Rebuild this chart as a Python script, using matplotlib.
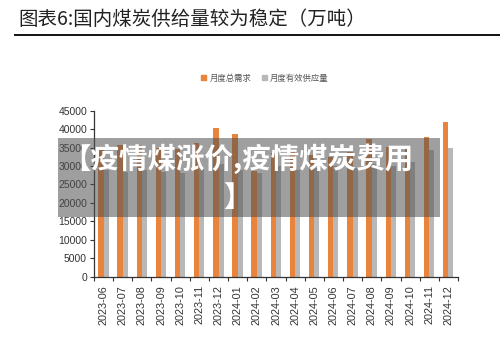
import matplotlib
matplotlib.use("Agg")
import matplotlib.pyplot as plt
from matplotlib.patches import Patch, Rectangle
from matplotlib.lines import Line2D
import numpy as np

plt.rcParams['font.family'] = ['Noto Sans CJK SC', 'DejaVu Sans']

months = ["2023-06", "2023-07", "2023-08", "2023-09", "2023-10", "2023-11",
          "2023-12", "2024-01", "2024-02", "2024-03", "2024-04", "2024-05",
          "2024-06", "2024-07", "2024-08", "2024-09", "2024-10", "2024-11",
          "2024-12"]
demand = [34500, 35700, 35700, 34800, 34500, 36200, 40200, 38600, 28600, 33500,
          34000, 33000, 32500, 33800, 37200, 35200, 35000, 38000, 42000]
supply = [29000, 28500, 29000, 28500, 28000, 29500, 30500, 29000, 28000, 30000,
          29000, 29500, 30000, 29500, 30500, 30000, 31000, 34300, 34800]
yticks = list(range(0, 45001, 5000))

title = "图表6:国内煤炭供给量较为稳定（万吨）"
legend_labels = ["月度总需求", "月度有效供应量"]
overlay_text = "【疫情煤涨价,疫情煤炭费用\n】"

ORANGE = "#E8843C"
GRAY = "#B8B8B8"

W, H = 500, 355
fig = plt.figure(figsize=(W / 100, H / 100), dpi=100)

# axes placed in pixel terms
left, right, top, bottom = 94, 458, 110.7, 276.7
ax = fig.add_axes([left / W, 1 - bottom / H, (right - left) / W, (bottom - top) / H])

x = np.arange(len(months))
ax.bar(x - 0.14, demand, width=0.28, color=ORANGE, zorder=2)
ax.bar(x + 0.13, supply, width=0.26, color=GRAY, zorder=2)

ax.set_xlim(-0.5, len(months) - 0.5)
ax.set_ylim(0, 45000)
ax.set_yticks(yticks)
ax.set_yticklabels([str(v) for v in yticks], fontsize=7.5, color="#333333",
                   family="Liberation Sans")
ax.set_xticks(x)
ax.set_xticklabels(months, rotation=90, fontsize=7.8, color="#333333",
                   family="Liberation Sans")
ax.tick_params(axis="x", which="major", length=0, pad=6)
ax.set_xticks(np.arange(-0.5, len(months)), minor=True)
ax.tick_params(axis="x", which="minor", length=3, width=0.8, color="#333333")
ax.tick_params(axis="y", length=3, width=0.8, color="#333333", pad=2)
for s in ("top", "right"):
    ax.spines[s].set_visible(False)
for s in ("left", "bottom"):
    ax.spines[s].set_color("#333333")
    ax.spines[s].set_linewidth(0.9)

# title and rule
fig.text(18 / W, 1 - 19 / H, title, fontsize=14, color="#222222",
         va="center", ha="left")
fig.add_artist(Line2D([15 / W, 1.0], [1 - 34.5 / H, 1 - 34.5 / H],
                      color="#111111", lw=1.4))

# legend
handles = [Patch(color=ORANGE), Patch(color=GRAY)]
fig.legend(handles, legend_labels, loc="center", bbox_to_anchor=(265 / W, 1 - 78 / H),
           ncol=2, frameon=False, fontsize=6, handlelength=0.6, handleheight=0.6,
           handletextpad=0.4, columnspacing=1.2, labelcolor="#555555")

# watermark overlay box
fig.add_artist(Rectangle((58 / W, 1 - 217 / H), (440 - 58) / W, (217 - 138) / H,
                         transform=fig.transFigure, facecolor="#505050",
                         alpha=0.55, edgecolor="none", zorder=10))
fig.text(238 / W, 1 - 178 / H, overlay_text, fontsize=20.5, fontweight="bold",
         color="white", ha="center", va="center", linespacing=1.45, zorder=11)

fig.savefig("out.png", dpi=100)
